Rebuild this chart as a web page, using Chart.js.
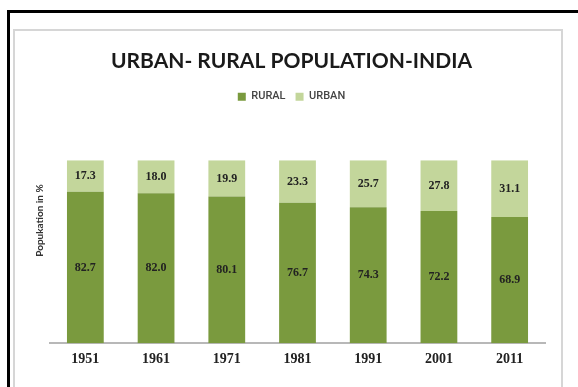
<!DOCTYPE html>
<html>
<head>
<meta charset="utf-8">
<script src="https://cdn.jsdelivr.net/npm/chart.js@4.4.0/dist/chart.umd.min.js"></script>
<style>
  html, body { margin: 0; padding: 0; background: #fff; }
  body { width: 578px; height: 387px; position: relative; overflow: hidden; }
  #outer { position: absolute; left: 7px; top: 10px; width: 600px; height: 400px;
    border-top: 3px solid #000; border-left: 3px solid #000; }
  #inner { position: absolute; left: 13px; top: 29px; width: 546px; height: 400px;
    border: 2px solid #d6d6d6; }
  #chart { position: absolute; left: 0; top: 0; }
</style>
</head>
<body>
<div id="outer"></div>
<div id="inner"></div>
<canvas id="chart" width="578" height="387"></canvas>
<script>
const years = ["1951", "1961", "1971", "1981", "1991", "2001", "2011"];
const rural = [82.7, 82.0, 80.1, 76.7, 74.3, 72.2, 68.9];
const urban = [17.3, 18.0, 19.9, 23.3, 25.7, 27.8, 31.1];
const yTitle = "Popukation in %";

// value labels centred in each bar segment
const barLabels = {
  id: "barLabels",
  afterDatasetsDraw(chart) {
    const ctx = chart.ctx;
    ctx.save();
    ctx.font = "bold 12px 'Liberation Serif'";
    ctx.fillStyle = "#222";
    ctx.textAlign = "center";
    ctx.textBaseline = "middle";
    chart.data.datasets.forEach((ds, i) => {
      const meta = chart.getDatasetMeta(i);
      meta.data.forEach((bar, j) => {
        const y = (bar.y + bar.base) / 2;
        ctx.fillText(ds.data[j].toFixed(1), bar.x, y);
      });
    });
    ctx.restore();
  },
};

// y axis title, sitting a bit above the middle like the original
const yAxisTitle = {
  id: "yAxisTitle",
  afterDraw(chart) {
    const ctx = chart.ctx;
    const y = chart.scales.y.getPixelForValue(67);
    ctx.save();
    ctx.translate(chart.chartArea.left - 10, y);
    ctx.rotate(-Math.PI / 2);
    ctx.font = "bold 10px Lato";
    ctx.fillStyle = "#333";
    ctx.textAlign = "center";
    ctx.textBaseline = "middle";
    ctx.fillText(yTitle, 0, 0);
    ctx.restore();
  },
};

new Chart(document.getElementById("chart"), {
  type: "bar",
  data: {
    labels: years,
    datasets: [
      { label: "RURAL", data: rural, backgroundColor: "#7a9a3e" },
      { label: "URBAN", data: urban, backgroundColor: "#c3d69b" },
    ],
  },
  options: {
    responsive: false,
    animation: false,
    devicePixelRatio: 1,
    layout: { padding: { left: 38, right: 33, top: 30, bottom: 11 } },
    datasets: { bar: { categoryPercentage: 1, barPercentage: 0.52 } },
    plugins: {
      title: {
        display: true,
        text: "URBAN- RURAL POPULATION-INDIA",
        color: "#1a1a1a",
        font: { family: "Lato", size: 21, weight: "bold" },
        padding: { top: 19, bottom: 7 },
      },
      legend: {
        display: true,
        labels: {
          boxWidth: 8,
          boxHeight: 8,
          padding: 10,
          color: "#444",
          font: { family: "Roboto", size: 11, weight: "500" },
        },
      },
      subtitle: {
        display: true,
        text: "",
        weight: 500,
        font: { size: 10 },
        padding: { top: 0, bottom: 36 },
      },
      tooltip: { enabled: false },
    },
    scales: {
      x: {
        stacked: true,
        grid: { display: false, drawTicks: false },
        border: { display: true, color: "#b8b8b8", width: 2 },
        ticks: {
          padding: 8,
          color: "#222",
          font: { family: "Liberation Serif", size: 14, weight: "bold" },
        },
      },
      y: {
        stacked: true,
        min: 0,
        max: 100,
        grid: { display: false, drawTicks: false },
        border: { display: false },
        ticks: { display: false },
        afterFit(scale) {
          scale.width = 12;
        },
      },
    },
  },
  plugins: [barLabels, yAxisTitle],
});
</script>
</body>
</html>
